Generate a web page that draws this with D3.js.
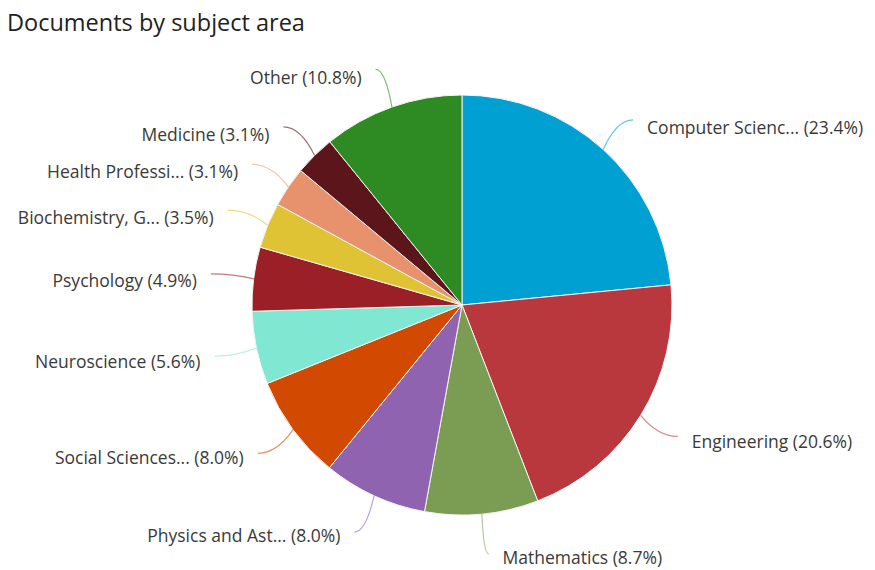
<!DOCTYPE html>
<html lang="en">
  <head>
    <meta charset="UTF-8" />
    <script src="https://d3js.org/d3.v7.min.js"></script>
    <title>Documents by subject area</title>
    <style>
      body { margin: 0; background: #fff; }
      text { font-family: "Open Sans", sans-serif; }
    </style>
  </head>
  <body>
  </body>
</html>
<script>
const width = 875;
const height = 570;

// data
const subjects = [
  "Computer Scienc...", "Engineering", "Mathematics", "Physics and Ast...",
  "Social Sciences...", "Neuroscience", "Psychology", "Biochemistry, G...",
  "Health Professi...", "Medicine", "Other"
];
const shares = [23.4, 20.6, 8.7, 8.0, 8.0, 5.6, 4.9, 3.5, 3.1, 3.1, 10.8];
const colours = [
  "#01a0d2", "#b9383e", "#7b9d53", "#9063b1", "#d24a02", "#80e8d2",
  "#9b1f27", "#e0c235", "#e8916d", "#5b151b", "#2e8a22"
];

const cx = 462, cy = 305, radius = 210;

let data = subjects.map((s, i) => ({ name: s, value: shares[i], colour: colours[i] }));

let svg = d3.select("body")
  .append("svg")
  .attr("width", width)
  .attr("height", height);

svg.append("text")
  .attr("x", 7)
  .attr("y", 31)
  .style("font-size", "23.5px")
  .style("fill", "#222")
  .text("Documents by subject area");

let pie = d3.pie().value(d => d.value).sort(null);
let arc = d3.arc().innerRadius(0).outerRadius(radius);

let g = svg.append("g").attr("transform", `translate(${cx},${cy})`);

let arcs = pie(data);

g.selectAll(".slice")
  .data(arcs)
  .enter()
  .append("path")
  .attr("class", "slice")
  .attr("d", arc)
  .attr("fill", d => d.data.colour)
  .attr("stroke", "#f4f4f4")
  .attr("stroke-width", 1);

// point at distance r along the middle angle of a slice
function polar(d, r) {
  let a = (d.startAngle + d.endAngle) / 2;
  return [r * Math.sin(a), -r * Math.cos(a)];
}

arcs.forEach(d => {
  let unit = polar(d, 1);
  let side = unit[0] >= 0 ? 1 : -1;
  let edge = polar(d, radius);
  let anchor = polar(d, radius + 40);
  let mid = polar(d, radius + 20);
  let end = [anchor[0] + 3 * side, anchor[1]];
  let path = d3.path();
  path.moveTo(edge[0], edge[1]);
  path.quadraticCurveTo(mid[0], end[1], end[0], end[1]);
  g.append("path")
    .attr("d", path.toString())
    .attr("fill", "none")
    .attr("stroke", d.data.colour)
    .attr("stroke-opacity", 0.6)
    .attr("stroke-width", 1.2);

  // labels sit a little below the connector end, more so near the top
  g.append("text")
    .attr("x", anchor[0] + 17 * side)
    .attr("y", anchor[1] + 6.5 - 2.5 * unit[1])
    .attr("dy", "0.35em")
    .attr("text-anchor", side > 0 ? "start" : "end")
    .style("font-size", "17.5px")
    .style("fill", "#3a3a3a")
    .text(d.data.name + " (" + d.data.value.toFixed(1) + "%)");
});
</script>
